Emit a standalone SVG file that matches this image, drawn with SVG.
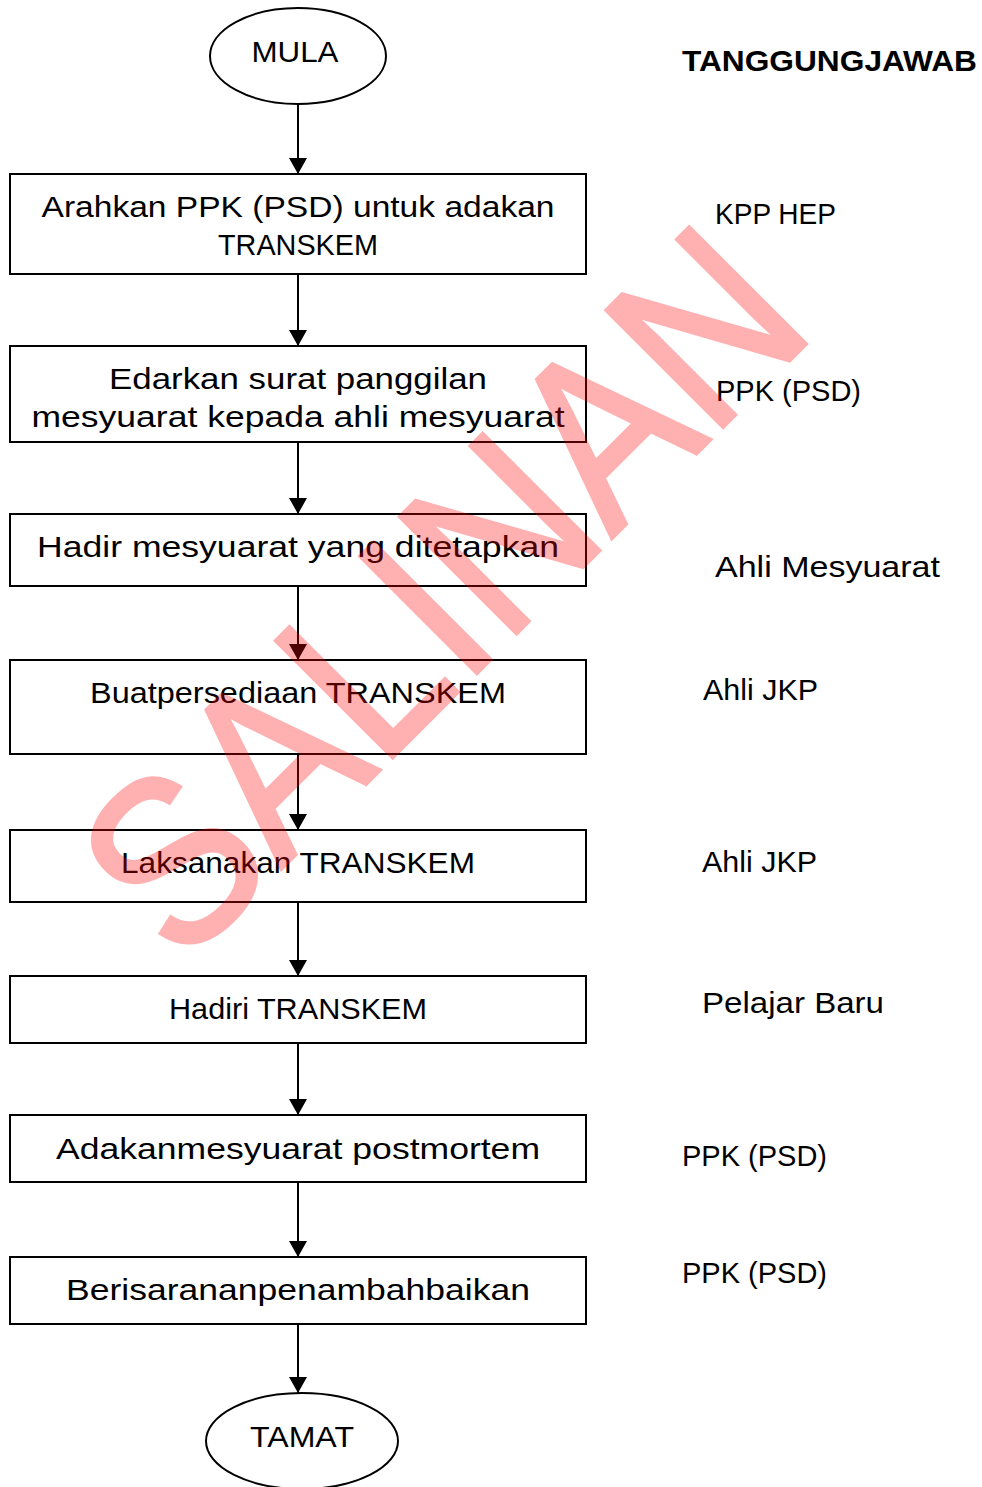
<svg xmlns="http://www.w3.org/2000/svg" width="982" height="1487" viewBox="0 0 982 1487">
<style>
.n{fill:#fff;stroke:#000;stroke-width:2}
.t{font-family:"Liberation Sans",Arial,sans-serif;font-size:30px;fill:#000;text-anchor:middle}
.r{font-family:"Liberation Sans",Arial,sans-serif;font-size:30px;fill:#000}
.c{stroke:#000;stroke-width:2;fill:none;marker-end:url(#ah)}
</style>
<defs>
<marker id="ah" viewBox="0 0 16 18" refX="16" refY="9" markerWidth="16" markerHeight="18" markerUnits="userSpaceOnUse" orient="auto">
<path d="M0,0 L16,9 L0,18 Z" fill="#000"/>
</marker>
</defs>
<rect width="982" height="1487" fill="#fff"/>
<g id="connectors">
<line class="c" x1="298" y1="104" x2="298" y2="174"/>
<line class="c" x1="298" y1="274" x2="298" y2="346"/>
<line class="c" x1="298" y1="442" x2="298" y2="514"/>
<line class="c" x1="298" y1="586" x2="298" y2="660"/>
<line class="c" x1="298" y1="754" x2="298" y2="830"/>
<line class="c" x1="298" y1="902" x2="298" y2="976"/>
<line class="c" x1="298" y1="1043" x2="298" y2="1115"/>
<line class="c" x1="298" y1="1182" x2="298" y2="1257"/>
<line class="c" x1="298" y1="1324" x2="298" y2="1393"/>
</g>
<g id="mula"><ellipse class="n" cx="298" cy="56" rx="88" ry="48"/><text class="t" x="295" y="62" textLength="87" lengthAdjust="spacingAndGlyphs">MULA</text></g>
<g id="step1"><rect class="n" x="10" y="174" width="576" height="100"/>
<text class="t" x="298" y="217" textLength="513" lengthAdjust="spacingAndGlyphs">Arahkan PPK (PSD) untuk adakan</text>
<text class="t" x="298" y="255" textLength="160" lengthAdjust="spacingAndGlyphs">TRANSKEM</text></g>
<g id="step2"><rect class="n" x="10" y="346" width="576" height="96"/>
<text class="t" x="298" y="389" textLength="378" lengthAdjust="spacingAndGlyphs">Edarkan surat panggilan</text>
<text class="t" x="298" y="427" textLength="533" lengthAdjust="spacingAndGlyphs">mesyuarat kepada ahli mesyuarat</text></g>
<g id="step3"><rect class="n" x="10" y="514" width="576" height="72"/>
<text class="t" x="298" y="557" textLength="522" lengthAdjust="spacingAndGlyphs">Hadir mesyuarat yang ditetapkan</text></g>
<g id="step4"><rect class="n" x="10" y="660" width="576" height="94"/>
<text class="t" x="298" y="703" textLength="416" lengthAdjust="spacingAndGlyphs">Buatpersediaan TRANSKEM</text></g>
<g id="step5"><rect class="n" x="10" y="830" width="576" height="72"/>
<text class="t" x="298" y="873" textLength="354" lengthAdjust="spacingAndGlyphs">Laksanakan TRANSKEM</text></g>
<g id="step6"><rect class="n" x="10" y="976" width="576" height="67"/>
<text class="t" x="298" y="1019" textLength="258" lengthAdjust="spacingAndGlyphs">Hadiri TRANSKEM</text></g>
<g id="step7"><rect class="n" x="10" y="1115" width="576" height="67"/>
<text class="t" x="298" y="1159" textLength="484" lengthAdjust="spacingAndGlyphs">Adakanmesyuarat postmortem</text></g>
<g id="step8"><rect class="n" x="10" y="1257" width="576" height="67"/>
<text class="t" x="298" y="1300" textLength="464" lengthAdjust="spacingAndGlyphs">Berisarananpenambahbaikan</text></g>
<g id="tamat"><ellipse class="n" cx="302" cy="1441" rx="96" ry="48"/><text class="t" x="302" y="1447" textLength="104" lengthAdjust="spacingAndGlyphs">TAMAT</text></g>
<g id="responsibility">
<text class="r" x="682" y="71" font-weight="bold" font-size="28" textLength="295" lengthAdjust="spacingAndGlyphs">TANGGUNGJAWAB</text>
<text class="r" x="715" y="224" textLength="121" lengthAdjust="spacingAndGlyphs">KPP HEP</text>
<text class="r" x="716" y="401" textLength="145" lengthAdjust="spacingAndGlyphs">PPK (PSD)</text>
<text class="r" x="715" y="577" textLength="225" lengthAdjust="spacingAndGlyphs">Ahli Mesyuarat</text>
<text class="r" x="703" y="700" textLength="115" lengthAdjust="spacingAndGlyphs">Ahli JKP</text>
<text class="r" x="702" y="872" textLength="115" lengthAdjust="spacingAndGlyphs">Ahli JKP</text>
<text class="r" x="702" y="1013" textLength="182" lengthAdjust="spacingAndGlyphs">Pelajar Baru</text>
<text class="r" x="682" y="1166" textLength="145" lengthAdjust="spacingAndGlyphs">PPK (PSD)</text>
<text class="r" x="682" y="1283" textLength="145" lengthAdjust="spacingAndGlyphs">PPK (PSD)</text>
</g>
<g id="watermark">
<text x="500" y="650" transform="rotate(-45 500 650)" font-family="Liberation Sans, Arial, sans-serif" font-size="240" text-anchor="middle" textLength="900" lengthAdjust="spacingAndGlyphs" fill="#ff0000" stroke="#ff0000" stroke-width="4" opacity="0.3">SALINAN</text>
</g>
</svg>
